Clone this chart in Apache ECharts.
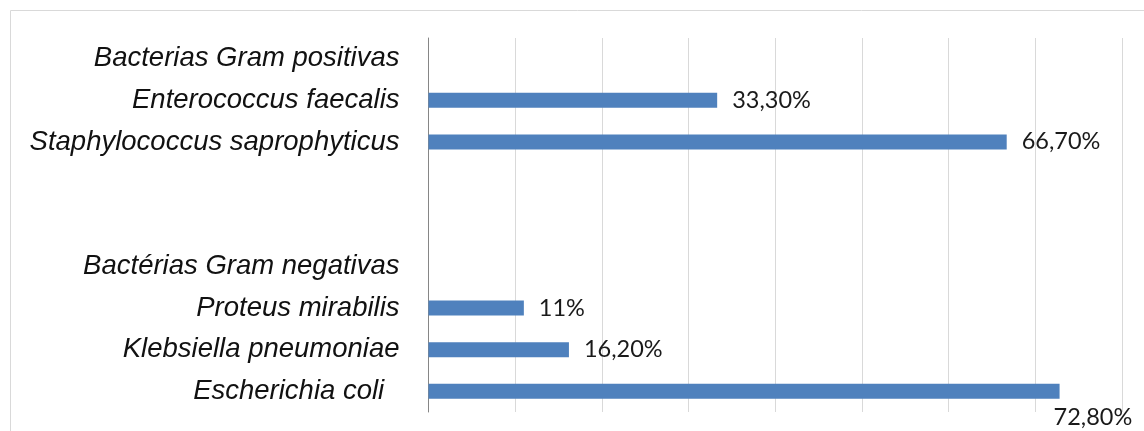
<!DOCTYPE html>
<html>
<head>
<meta charset="utf-8">
<script src="https://cdn.jsdelivr.net/npm/echarts@6/dist/echarts.min.js"></script>
<style>
html,body{margin:0;padding:0;background:#fff;}
#chart{width:1144px;height:431px;}
</style>
</head>
<body>
<div id="chart"></div>
<script>
const categories = ["Bacterias Gram positivas", "Enterococcus faecalis", "Staphylococcus saprophyticus", "", " ", "Bactérias Gram negativas", "Proteus mirabilis", "Klebsiella pneumoniae", "Escherichia coli  "];
const values = [null, 33.3, 66.7, null, null, null, 11, 16.2, 72.8];
const valueLabels = ["", "33,30%", "66,70%", "", "", "", "11%", "16,20%", "72,80%"];
const xTicks = [0, 10, 20, 30, 40, 50, 60, 70, 80];

const chart = echarts.init(document.getElementById('chart'), null, {renderer: 'canvas'});
const data = values.map((v, i) => {
  const item = {value: v};
  if (i === 8) {
    item.label = {position: ['100%', '100%'], offset: [-6, 19], align: 'left', verticalAlign: 'middle'};
  }
  return item;
});
chart.setOption({
  animation: false,
  graphic: [{
    type: 'rect',
    shape: {x: 10.5, y: 10.5, width: 1150, height: 440},
    style: {fill: 'none', stroke: '#d9d9d9', lineWidth: 1}
  }],
  grid: {left: 428.5, right: 22, top: 38, bottom: 19},
  xAxis: {
    type: 'value', min: xTicks[0], max: xTicks[xTicks.length - 1], interval: 10,
    axisLabel: {show: false}, axisTick: {show: false}, axisLine: {show: false},
    splitLine: {show: true, lineStyle: {color: '#d9d9d9', width: 1}}
  },
  yAxis: {
    type: 'category', inverse: true, data: categories,
    axisTick: {show: false},
    axisLine: {show: true, lineStyle: {color: '#868686', width: 1}},
    axisLabel: {
      margin: 29, fontFamily: 'Liberation Sans', fontStyle: 'italic', fontSize: 27.5,
      color: '#111'
    }
  },
  series: [{
    type: 'bar', data: data, barWidth: 15,
    itemStyle: {color: '#4f81bd'},
    label: {
      show: true, position: 'right', distance: 15,
      fontFamily: 'Lato', fontSize: 23.5, color: '#1a1a1a',
      formatter: p => valueLabels[p.dataIndex]
    }
  }]
});
</script>
</body>
</html>
